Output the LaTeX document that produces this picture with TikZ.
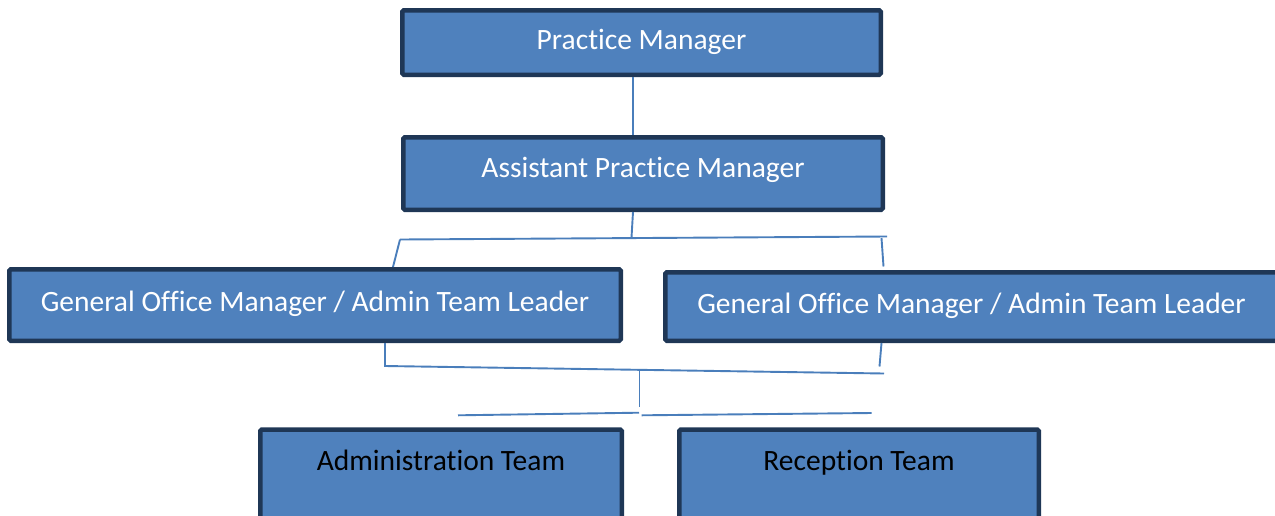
\documentclass[tikz,border=0pt]{standalone}
\usepackage{fontspec}
\setmainfont{Carlito}[Ligatures={NoCommon}]
\usetikzlibrary{positioning}
\definecolor{boxfill}{HTML}{4F81BD}
\definecolor{boxline}{HTML}{1F3756}
\definecolor{connline}{HTML}{4A7EBB}
\tikzset{
	rolebox/.style={draw=boxline, line width=4.5pt, fill=boxfill, rounded corners=1.5pt,
		inner sep=0pt, text height=20pt, text depth=7pt, text centered,
		font=\fontsize{29.5}{34}\selectfont},
	teambox/.style={rolebox, anchor=north, inner ysep=20.75pt, text depth=41pt, text=black},
	conn/.style={draw=connline, line width=1.9pt}
}
\begin{document}
\begin{tikzpicture}[x=1pt, y=-1pt]
		\useasboundingbox (0,0) rectangle (1275,515);
		\clip (0,0) rectangle (1275,515);
		%Boxes
		\node (pm) at (641.5,42.5) [rolebox, text=white, minimum width=478.5pt, 
		minimum height=64.5pt]{Practice Manager};
		\node (apm) at (643,173.5) [rolebox, text=white, text depth=13pt, minimum width=479.5pt, 
		minimum height=72.5pt]{Assistant Practice Manager};
		\node (gomL) at (315,305) [rolebox, text=white, minimum width=611.5pt, 
		minimum height=71.5pt]{General Office Manager / Admin Team Leader};
		\node (gomR) at (971.5,306.5) [rolebox, text=white, minimum width=612.5pt, 
		minimum height=68.5pt]{General Office Manager / Admin Team Leader};
		\node (adminT) at (441,427.25) [teambox, minimum width=361.5pt]{Administration Team};
		\node (recepT) at (859,427.25) [teambox, minimum width=359.5pt]{Reception Team};
		
		%Connector points
		\coordinate (stemA) at (633,0);
		\coordinate (hubA) at (631.5,237.5);
		\coordinate (barAL) at (400,239.5);
		\coordinate (barAR) at (887,236.5);
		\coordinate (dropL) at (393,0);
		\coordinate (dropRtop) at (881.5,238);
		\coordinate (dropRend) at (883.5,266.5);
		\coordinate (stemBL) at (385,0);
		\coordinate (barBL) at (385,366);
		\coordinate (barBR) at (884,373.5);
		\coordinate (stemBR) at (881.5,0);
		\coordinate (stemBRend) at (879.5,366.5);
		\coordinate (hubB) at (639.5,370);
		\coordinate (hubBend) at (639.5,407);
		\coordinate (barCL) at (458,415.3);
		\coordinate (barCM) at (639,412.7);
		\coordinate (barCN) at (641.7,415.3);
		\coordinate (barCR) at (871.7,413);
		
		%Connectors
		\draw[conn] (pm.south -| stemA) -- (apm.north -| stemA);
		\draw[conn] (apm.south -| stemA) -- (hubA);
		\draw[conn] (barAL) -- (barAR);
		\draw[conn] (barAL) -- (gomL.north -| dropL);
		\draw[conn] (dropRtop) -- (dropRend);
		
		\draw[conn] (gomL.south -| stemBL) -- (barBL) -- (barBR);
		\draw[conn] (gomR.south -| stemBR) -- (stemBRend);
		\draw[conn] (hubB) -- (hubBend);
		\draw[conn] (barCL) -- (barCM);
		\draw[conn] (barCN) -- (barCR);
\end{tikzpicture}
\end{document}
